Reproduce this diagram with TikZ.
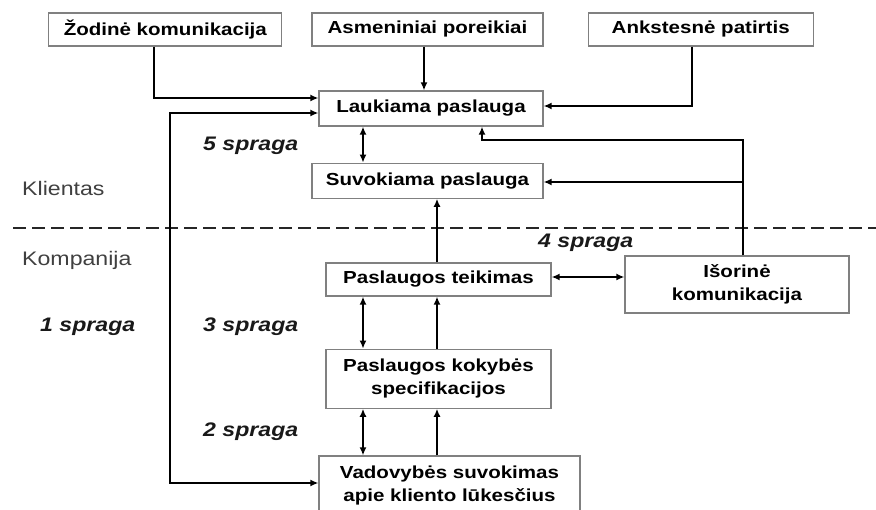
\documentclass[tikz,border=0pt]{standalone}
\usepackage{fontspec}
\setmainfont{Liberation Sans}[FakeStretch=1.18]
\usepackage{tikz}
\usetikzlibrary{arrows.meta,positioning}

\newcommand{\blkfont}{\fontsize{17.4}{23}\selectfont\bfseries}
\newcommand{\gapfont}{\fontsize{19.6}{24}\selectfont\bfseries\itshape}
\newcommand{\sidefont}{\fontsize{19.6}{24}\selectfont}

\begin{document}
\begin{tikzpicture}[
  x=1pt, y=-1pt,
  >={Latex[length=8pt,width=7pt]},
  blk/.style={draw=black!50, line width=1.2pt, fill=white, align=center,
              inner sep=2pt, font=\blkfont},
  gaplbl/.style={font=\gapfont, text=black!90, anchor=base west, inner sep=0pt},
  sidelbl/.style={font=\sidefont, text=black!75, anchor=base west, inner sep=0pt},
  fatarrow/.style={line width=2.8pt, ->},
  arrow/.style={line width=2pt, ->},
  twoway/.style={line width=1.6pt, <->}
]
\useasboundingbox (0,0) rectangle (876,510);

% client / company border
\draw[line width=2pt, black!85, dash pattern=on 12.5pt off 6.5pt] (13,228) -- (876,228);

\node[blk, minimum width=231pt, minimum height=33pt] (asm) at (427.5,29.5) {Asmeniniai poreikiai};
\node[blk, minimum width=233pt, minimum height=33pt, left=29pt of asm] (zod) {Žodinė komunikacija};
\node[blk, minimum width=225pt, minimum height=33pt, right=44pt of asm] (ank) {Ankstesnė patirtis};
\node[blk, minimum width=224pt, minimum height=35pt] (lauk) at (431,108.5) {Laukiama paslauga};
\node[blk, minimum width=231pt, minimum height=35pt,
      below=36pt of lauk.south east, anchor=north east] (suv) {Suvokiama paslauga};
\node[blk, minimum width=225pt, minimum height=33pt] (teik) at (438.5,279.5) {Paslaugos teikimas};
\node[blk, minimum width=224pt, minimum height=57pt] (isor) at (737,284.5) {Išorinė\\ komunikacija};
\node[blk, minimum width=225pt, minimum height=59pt, below=52pt of teik] (spec) {Paslaugos kokybės\\ specifikacijos};
\node[blk, minimum width=261pt, minimum height=60pt] (vad) at (449.5,486) {Vadovybės suvokimas\\ apie kliento lūkesčius};

\node[sidelbl] (klient) at (22,196) {Klientas};
\node[sidelbl] (komp) at (22,266) {Kompanija};
\node[gaplbl] (gap5) at (203,151) {5 spraga};
\node[gaplbl] (gap4) at (538,248) {4 spraga};
\node[gaplbl] (gap1) at (40,332) {1 spraga};
\node[gaplbl] (gap3) at (203,332) {3 spraga};
\node[gaplbl] (gap2) at (203,437) {2 spraga};

% into the expected service
\draw[fatarrow] (zod.south -| 154,0) |- (lauk.west |- 0,98);
\draw[arrow] (asm.south -| 424,0) -- (lauk.north -| 424,0);
\draw[fatarrow] (ank.south -| 692,0) |- (lauk.east |- 0,106);
\draw[fatarrow, <->] (lauk.west |- 0,113) -| (170,483) -- (vad.west |- 0,483);
\draw[fatarrow] (isor.north -| 743,0) -- (743,140) -| (lauk.south -| 482,0);
\draw[arrow] (743,182) -- (suv.east |- 0,182);

% gaps
\draw[twoway] (lauk.south -| 363,0) -- (suv.north -| 363,0);
\draw[arrow] (teik.north -| 437,0) -- (suv.south -| 437,0);
\draw[twoway] (teik.east |- 0,277) -- (isor.west |- 0,277);
\draw[twoway] (teik.south -| 363,0) -- (spec.north -| 363,0);
\draw[arrow] (spec.north -| 437,0) -- (teik.south -| 437,0);
\draw[twoway] (spec.south -| 363,0) -- (vad.north -| 363,0);
\draw[arrow] (vad.north -| 437,0) -- (spec.south -| 437,0);
\end{tikzpicture}
\end{document}
